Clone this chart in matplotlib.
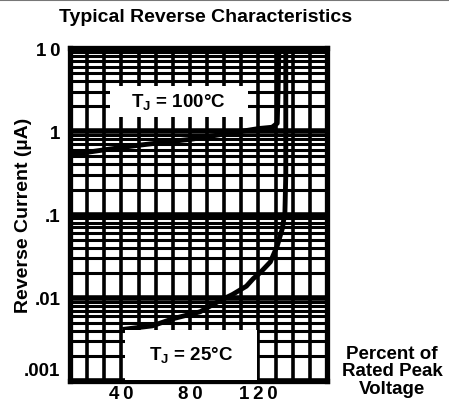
import numpy as np
import matplotlib
matplotlib.use('Agg')
import matplotlib.pyplot as plt
import matplotlib.transforms as mtransforms
from matplotlib.ticker import LogLocator, MultipleLocator, FixedLocator, NullFormatter
from matplotlib.patches import Rectangle

plt.rcParams['font.family'] = ['Liberation Sans Narrow', 'Liberation Sans', 'DejaVu Sans']
plt.rcParams['font.weight'] = 'bold'
plt.rcParams['mathtext.fontset'] = 'custom'
plt.rcParams['mathtext.rm'] = 'Liberation Sans:bold'

# data
pct_100 = [10, 20, 30, 40, 50, 60, 70, 80, 90, 100, 110, 120, 128, 131, 131.5, 132]
cur_100 = [0.53, 0.56, 0.6, 0.64, 0.68, 0.72, 0.76, 0.8, 0.86, 0.93, 1.0, 1.08, 1.12, 1.25, 3.0, 10]

pct_25 = [42, 50, 58, 70, 86, 96, 105, 113, 117, 121, 127, 131, 134, 135.5, 136, 136]
cur_25 = [0.0042, 0.0044, 0.0046, 0.0056, 0.0068, 0.0089, 0.011, 0.0138, 0.017, 0.02, 0.027, 0.042, 0.068, 0.107, 0.3, 10]

x_ticks = [40, 80, 120]
x_labels = ['4\u20090', '8\u20090', '1\u20092\u20090']
y_ticks = [0.001, 0.01, 0.1, 1, 10]
y_labels = ['.001', '.01', '.1', '1', '1\u20090']

fig = plt.figure(figsize=(4.49, 4.06), dpi=100)
ax = fig.add_axes([0.156, 0.059, 0.572, 0.820])

ax.set_yscale('log')
ax.set_xlim(10, 160)
ax.set_ylim(0.001, 10)

ax.xaxis.set_major_locator(FixedLocator(x_ticks))
ax.xaxis.set_minor_locator(MultipleLocator(10))
ax.set_xticklabels(x_labels, fontsize=13.5, fontweight='bold')
ax.yaxis.set_major_locator(FixedLocator(y_ticks))
ax.yaxis.set_minor_locator(LogLocator(base=10, subs=np.arange(2, 10)))
ax.yaxis.set_minor_formatter(NullFormatter())
ax.set_yticklabels(y_labels, fontsize=13.5, fontweight='bold')
ax.tick_params(which='both', length=0)
ax.tick_params(axis='x', pad=3)
ax.tick_params(axis='y', pad=7)

# the .001 label sits a little above its line in the original
lbl = ax.get_yticklabels()[0]
lbl.set_transform(lbl.get_transform() +
                  mtransforms.ScaledTranslation(0, 0.13, fig.dpi_scale_trans))

ax.grid(which='minor', axis='y', color='black', lw=2.2)
ax.grid(which='major', axis='y', color='black', lw=4)
ax.grid(which='both', axis='x', color='black', lw=2.6)
ax.set_axisbelow(True)
for s in ax.spines.values():
    s.set_linewidth(3.8)

ax.plot(pct_100, cur_100, color='black', lw=3.5, zorder=4)
ax.plot(pct_25, cur_25, color='black', lw=3.5, zorder=4)

# label boxes
ax.add_patch(Rectangle((33.5, 1.5), 80.5, 2.0, facecolor='white', edgecolor='none', zorder=5))
ax.text(73.5, 2.25, 'T$_\\mathregular{J}$ = 100°C', ha='center', va='center',
        fontsize=13.5, fontweight='bold', zorder=6)
ax.add_patch(Rectangle((42, 0.00102), 77, 0.0031, facecolor='white', edgecolor='none', zorder=5))
ax.text(80.5, 0.00205, 'T$_\\mathregular{J}$ = 25°C', ha='center', va='center',
        fontsize=13.5, fontweight='bold', zorder=6)

ax.set_ylabel('Reverse Current (µA)', fontsize=14, fontweight='bold')
ax.yaxis.set_label_coords(-0.15, 0.5)
fig.text(0.457, 0.958, 'Typical Reverse Characteristics', ha='center', va='center',
         fontsize=14, fontweight='bold')
fig.text(0.873, 0.084, 'Percent of\nRated Peak\nVoltage', ha='center', va='center',
         fontsize=13.5, fontweight='bold', linespacing=1.05)

fig.add_artist(plt.Line2D([0, 1], [0.998, 0.998], color='#777777', lw=1.5))

fig.savefig('out.png', dpi=100)
